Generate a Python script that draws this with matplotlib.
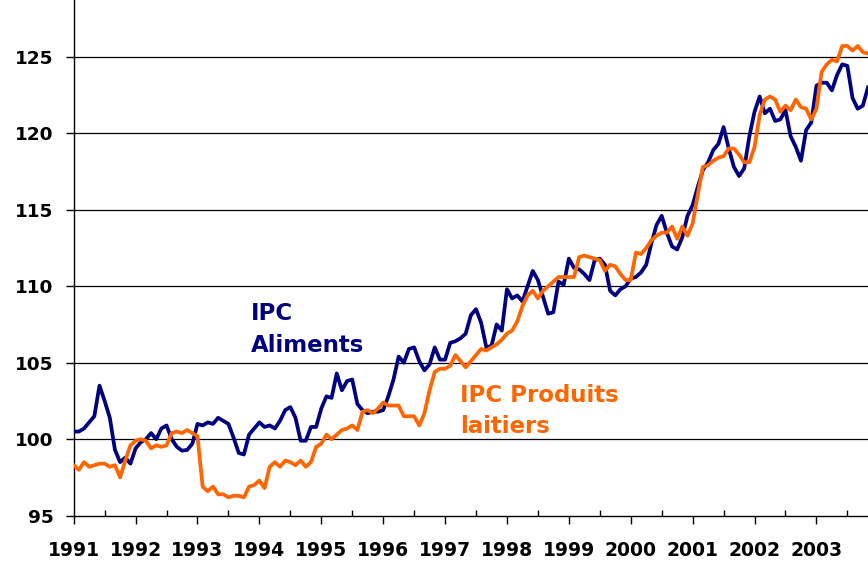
import numpy as np
import matplotlib
matplotlib.use("Agg")
import matplotlib.pyplot as plt
from matplotlib.ticker import MultipleLocator

# Monthly indices, January 1991 onward
start_year = 1991
aliments = [
    100.5, 100.5, 100.7, 101.1, 101.5, 103.5, 102.5, 101.4, 99.3, 98.5, 98.8, 98.4,
    99.4, 99.8, 100.0, 100.4, 100.0, 100.7, 100.9, 100.0, 99.5, 99.25, 99.3, 99.7,
    101.0, 100.9, 101.1, 101.0, 101.4, 101.2, 101.0, 100.1, 99.1, 99.0, 100.3, 100.7,
    101.1, 100.8, 100.9, 100.7, 101.2, 101.9, 102.1, 101.4, 99.9, 99.9, 100.8, 100.8,
    102.0, 102.8, 102.7, 104.3, 103.2, 103.8, 103.9, 102.3, 101.9, 101.7, 101.8, 101.8,
    101.9, 102.8, 103.9, 105.4, 105.0, 105.9, 106.0, 105.1, 104.5, 104.9, 106.0, 105.2,
    105.2, 106.3, 106.4, 106.6, 106.9, 108.1, 108.5, 107.6, 106.0, 106.1, 107.5, 107.1,
    109.8, 109.2, 109.4, 109.0, 110.0, 111.0, 110.4, 109.3, 108.2, 108.3, 110.3, 110.1,
    111.8, 111.2, 111.1, 110.8, 110.4, 111.7, 111.8, 111.4, 109.7, 109.4, 109.8, 110.0,
    110.5, 110.6, 110.9, 111.4, 112.8, 114.0, 114.6, 113.5, 112.6, 112.4, 113.2, 114.6,
    115.3, 116.5, 117.6, 118.1, 118.9, 119.3, 120.4, 119.0, 117.8, 117.2, 117.7, 119.8,
    121.4, 122.4, 121.3, 121.6, 120.8, 120.9, 121.5, 119.8, 119.1, 118.2, 120.2, 120.7,
    123.1, 123.3, 123.3, 122.8, 123.8, 124.5, 124.4, 122.3, 121.6, 121.8, 123.0,
]
laitiers = [
    98.3, 98.0, 98.5, 98.2, 98.3, 98.4, 98.4, 98.2, 98.3, 97.5, 98.6, 99.6,
    99.9, 100.0, 99.9, 99.4, 99.6, 99.5, 99.6, 100.4, 100.5, 100.4, 100.6, 100.4,
    100.2, 96.9, 96.6, 96.9, 96.4, 96.4, 96.2, 96.3, 96.3, 96.2, 96.9, 97.0,
    97.3, 96.8, 98.2, 98.5, 98.2, 98.6, 98.5, 98.3, 98.6, 98.2, 98.5, 99.5,
    99.7, 100.3, 100.0, 100.3, 100.6, 100.7, 100.9, 100.6, 101.8, 101.9, 101.7, 102.0,
    102.4, 102.2, 102.2, 102.2, 101.5, 101.5, 101.5, 100.9, 101.7, 103.2, 104.4, 104.6,
    104.6, 104.8, 105.5, 105.1, 104.7, 105.1, 105.5, 105.9, 105.8, 106.0, 106.2, 106.5,
    106.9, 107.1, 107.7, 108.7, 109.4, 109.7, 109.2, 109.7, 110.0, 110.3, 110.6, 110.6,
    110.6, 110.6, 111.9, 112.0, 111.9, 111.8, 111.7, 111.0, 111.4, 111.3, 110.8, 110.4,
    110.4, 112.2, 112.1, 112.5, 113.0, 113.3, 113.5, 113.5, 113.9, 113.1, 113.9, 113.3,
    114.1, 116.0, 117.8, 117.9, 118.2, 118.4, 118.5, 119.0, 119.0, 118.6, 118.1, 118.1,
    119.1, 121.2, 122.2, 122.4, 122.2, 121.4, 121.8, 121.5, 122.2, 121.7, 121.6, 120.9,
    121.6, 124.0, 124.5, 124.8, 124.7, 125.7, 125.7, 125.4, 125.7, 125.3, 125.2,
]
years = list(range(1991, 2004))
yticks = [95, 100, 105, 110, 115, 120, 125]

NAVY = "#000080"
ORANGE = "#FF6600"

plt.rcParams["font.family"] = ["DejaVu Sans"]

n = len(aliments)
x = start_year + np.arange(n) / 12.0

fig = plt.figure(figsize=(8.68, 5.61), dpi=100)
ax = fig.add_axes([73.7 / 868, 1 - 515.7 / 561, 1 - 73.7 / 868, 515.7 / 561])

for yv in yticks[1:]:
    ax.axhline(yv, color="black", lw=0.9, zorder=1)

ax.plot(x, aliments, color=NAVY, lw=2.7, zorder=3, solid_joinstyle="round")
ax.plot(x, laitiers, color=ORANGE, lw=2.7, zorder=3, solid_joinstyle="round")

ax.set_xlim(start_year, start_year + (n - 1) / 12.0)
ax.set_ylim(95, 95 + 515.7 / 15.3)

ax.set_xticks(years)
ax.set_xticklabels([str(y) for y in years])
ax.xaxis.set_minor_locator(MultipleLocator(0.5))
ax.set_yticks(yticks)
ax.set_yticklabels([str(v) for v in yticks])

ax.tick_params(axis="x", which="major", direction="out", length=5.5, width=1.0,
               pad=13, labelsize=13.5)
ax.tick_params(axis="x", which="minor", direction="in", length=4, width=1.0)
ax.tick_params(axis="y", which="major", direction="out", length=5.5, width=1.0,
               pad=9, labelsize=13.3)
for lab in ax.get_xticklabels() + ax.get_yticklabels():
    lab.set_fontweight("bold")

for s in ["top", "right"]:
    ax.spines[s].set_visible(False)
for s in ["left", "bottom"]:
    ax.spines[s].set_color("black")
    ax.spines[s].set_linewidth(1.0)

def fig_text(px, py, s, color):
    fig.text(px / 868, 1 - py / 561, s, color=color, fontsize=16.5,
             fontweight="bold", ha="left", va="baseline")

fig_text(251, 320, "IPC", NAVY)
fig_text(251, 351.7, "Aliments", NAVY)
fig_text(460, 402.3, "IPC Produits", ORANGE)
fig_text(460, 433.3, "laitiers", ORANGE)

fig.savefig("out.png", dpi=100)
